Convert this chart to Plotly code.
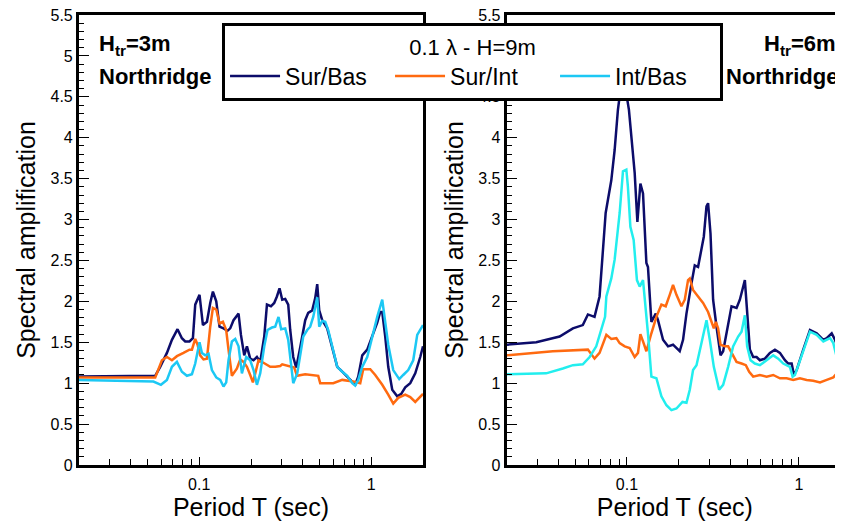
import plotly.graph_objects as go

# ---- left panel: H_tr = 3m ----
t3_sb = [0.0200, 0.0454, 0.0555, 0.0593, 0.0649, 0.0694, 0.0748, 0.0793, 0.0829, 0.0878,
         0.0919, 0.0948, 0.1004, 0.1051, 0.1109, 0.1159, 0.1201, 0.1256, 0.1312, 0.1384,
         0.1460, 0.1514, 0.1583, 0.1693, 0.1748, 0.1827, 0.1894, 0.1979, 0.2069, 0.2165,
         0.2263, 0.2388, 0.2476, 0.2612, 0.2729, 0.2829, 0.2930, 0.3038, 0.3162, 0.3292,
         0.3381, 0.3520, 0.3664, 0.3866, 0.4133, 0.4302, 0.4539, 0.4725, 0.4853, 0.4985,
         0.5189, 0.5549, 0.5934, 0.6345, 0.6784, 0.7253, 0.7755, 0.8072, 0.8403, 0.8867,
         0.9478, 1.0135, 1.0837, 1.1281, 1.1588, 1.2062, 1.2556, 1.3247, 1.4165, 1.4944,
         1.5767, 1.6857, 1.8026, 1.9274, 2.0]
a3_sb = [1.08, 1.09, 1.09, 1.20, 1.37, 1.53, 1.66, 1.55, 1.51, 1.51,
         1.55, 1.96, 2.08, 1.71, 1.75, 1.98, 2.12, 2.00, 1.69, 1.67,
         1.64, 1.67, 1.77, 1.85, 1.59, 1.34, 1.45, 1.30, 1.28, 1.32,
         1.26, 1.57, 1.96, 1.94, 1.98, 2.06, 2.16, 2.02, 2.03, 1.96,
         1.65, 1.32, 1.19, 1.44, 1.77, 1.86, 1.89, 2.04, 2.21, 1.89,
         1.77, 1.67, 1.43, 1.20, 1.14, 1.08, 1.01, 0.98, 1.08, 1.34,
         1.41, 1.57, 1.74, 1.87, 1.87, 1.57, 1.20, 0.92, 0.84, 0.87,
         0.95, 1.00, 1.12, 1.32, 1.45]

t3_si = [0.0200, 0.0454, 0.0555, 0.0607, 0.0649, 0.0694, 0.0742, 0.0810, 0.0878, 0.0907,
         0.0948, 0.0978, 0.1013, 0.1059, 0.1109, 0.1159, 0.1201, 0.1256, 0.1312, 0.1373,
         0.1435, 0.1480, 0.1549, 0.1657, 0.1731, 0.1810, 0.1894, 0.1979, 0.2052, 0.2117,
         0.2212, 0.2365, 0.2587, 0.2766, 0.2957, 0.3038, 0.3381, 0.3567, 0.3700, 0.4133,
         0.4918, 0.5052, 0.6013, 0.6784, 0.7860, 0.8630, 0.8985, 0.9867, 1.0551, 1.1588,
         1.2556, 1.3425, 1.4355, 1.5767, 1.6857, 1.8026, 2.0]
a3_si = [1.07, 1.07, 1.07, 1.28, 1.32, 1.28, 1.33, 1.37, 1.41, 1.41,
         1.54, 1.47, 1.34, 1.29, 1.30, 1.69, 1.92, 1.90, 1.73, 1.75,
         1.65, 1.41, 1.09, 1.18, 1.29, 1.26, 1.20, 1.10, 1.01, 1.12,
         1.28, 1.25, 1.20, 1.20, 1.21, 1.23, 1.20, 1.19, 1.09, 1.11,
         1.09, 1.00, 1.00, 1.04, 1.02, 1.00, 1.17, 1.17, 1.10, 0.98,
         0.86, 0.75, 0.82, 0.86, 0.83, 0.77, 0.87]

t3_ib = [0.0200, 0.0454, 0.0542, 0.0599, 0.0649, 0.0694, 0.0742, 0.0793, 0.0848, 0.0907,
         0.0948, 0.1004, 0.1037, 0.1084, 0.1133, 0.1185, 0.1256, 0.1325, 0.1384, 0.1435,
         0.1480, 0.1549, 0.1619, 0.1693, 0.1771, 0.1876, 0.1979, 0.2069, 0.2165, 0.2263,
         0.2388, 0.2495, 0.2647, 0.2766, 0.2891, 0.2997, 0.3162, 0.3292, 0.3427, 0.3520,
         0.3714, 0.3866, 0.4025, 0.4245, 0.4419, 0.4600, 0.4853, 0.4918, 0.4985, 0.5189,
         0.5403, 0.5623, 0.6013, 0.6345, 0.6784, 0.7253, 0.7755, 0.8072, 0.8403, 0.8867,
         0.9478, 1.0135, 1.0837, 1.1588, 1.2062, 1.2556, 1.3425, 1.4548, 1.5346, 1.6411,
         1.7546, 1.8511, 2.0]
a3_ib = [1.04, 1.03, 1.02, 0.98, 1.04, 1.20, 1.26, 1.14, 1.09, 1.11,
         1.24, 1.50, 1.37, 1.34, 1.36, 1.16, 1.07, 1.04, 0.96, 1.01,
         1.28, 1.51, 1.54, 1.45, 1.12, 1.32, 1.28, 1.16, 0.98, 1.12,
         1.45, 1.65, 1.68, 1.69, 1.81, 1.66, 1.67, 1.53, 1.20, 1.00,
         1.12, 1.37, 1.57, 1.65, 1.69, 1.81, 2.05, 1.87, 1.69, 1.76,
         1.75, 1.65, 1.41, 1.20, 1.14, 1.09, 1.00, 0.97, 1.04, 1.20,
         1.32, 1.57, 1.81, 2.02, 1.77, 1.47, 1.16, 1.05, 1.10, 1.16,
         1.28, 1.59, 1.71]

# ---- right panel: H_tr = 6m ----
t6_sb = [0.0200, 0.0297, 0.0406, 0.0485, 0.0554, 0.0593, 0.0648, 0.0693, 0.0752, 0.0811,
         0.0848, 0.0886, 0.0925, 0.0960, 0.1027, 0.1061, 0.1109, 0.1150, 0.1197, 0.1240,
         0.1297, 0.1325, 0.1387, 0.1470, 0.1515, 0.1621, 0.1733, 0.1853, 0.1940, 0.2027,
         0.2119, 0.2218, 0.2372, 0.2479, 0.2591, 0.2712, 0.2797, 0.2900, 0.2963, 0.3060,
         0.3169, 0.3317, 0.3500, 0.3624, 0.3824, 0.4055, 0.4337, 0.4533, 0.4847, 0.4999,
         0.5183, 0.5418, 0.5670, 0.5928, 0.6339, 0.6778, 0.7248, 0.7751, 0.8289, 0.8664,
         0.9068, 0.9353, 0.9696, 1.0593, 1.1589, 1.2680, 1.3854, 1.4500, 1.5502, 1.6206,
         1.6937, 1.7727, 1.80]
a6_sb = [1.47, 1.50, 1.57, 1.67, 1.71, 1.84, 1.81, 2.06, 3.08, 3.48,
         3.85, 4.34, 4.65, 4.72, 4.34, 3.97, 3.57, 2.97, 3.44, 3.32,
         2.47, 2.42, 1.75, 1.85, 1.77, 1.53, 1.45, 1.47, 1.43, 1.39,
         1.53, 1.85, 2.22, 2.44, 2.42, 2.67, 2.79, 3.16, 3.20, 2.83,
         2.02, 1.69, 1.34, 1.39, 1.65, 1.94, 1.92, 2.02, 2.26, 1.89,
         1.41, 1.32, 1.32, 1.28, 1.30, 1.37, 1.41, 1.37, 1.28, 1.24,
         1.24, 1.10, 1.16, 1.41, 1.65, 1.61, 1.53, 1.55, 1.61, 1.53,
         1.41, 1.45, 1.47]

t6_si = [0.0200, 0.0371, 0.0593, 0.0648, 0.0693, 0.0759, 0.0811, 0.0868, 0.0907, 0.0970,
         0.1037, 0.1109, 0.1159, 0.1197, 0.1240, 0.1297, 0.1387, 0.1483, 0.1586, 0.1680,
         0.1773, 0.1853, 0.1940, 0.2074, 0.2168, 0.2266, 0.2319, 0.2423, 0.2591, 0.2771,
         0.2963, 0.3101, 0.3199, 0.3286, 0.3388, 0.3500, 0.3707, 0.3875, 0.4143, 0.4337,
         0.4637, 0.4912, 0.5135, 0.5418, 0.5928, 0.6485, 0.7086, 0.7751, 0.8479, 0.9265,
         1.0134, 1.1089, 1.2114, 1.3254, 1.4500, 1.5840, 1.6937, 1.7727, 1.80]
a6_si = [1.34, 1.39, 1.41, 1.30, 1.37, 1.59, 1.54, 1.55, 1.49, 1.45,
         1.43, 1.32, 1.37, 1.60, 1.51, 1.39, 1.61, 1.81, 1.96, 1.94,
         2.08, 2.20, 2.08, 1.94, 2.02, 2.26, 2.28, 2.14, 2.06, 1.98,
         1.87, 1.75, 1.67, 1.75, 1.67, 1.47, 1.45, 1.45, 1.34, 1.26,
         1.24, 1.22, 1.14, 1.08, 1.10, 1.08, 1.10, 1.06, 1.06, 1.04,
         1.06, 1.04, 1.03, 1.01, 1.04, 1.07, 1.14, 1.20, 1.21]

t6_ib = [0.0200, 0.0339, 0.0424, 0.0485, 0.0554, 0.0607, 0.0663, 0.0709, 0.0746, 0.0759,
         0.0811, 0.0848, 0.0907, 0.0948, 0.0992, 0.1013, 0.1047, 0.1094, 0.1143, 0.1186,
         0.1240, 0.1325, 0.1387, 0.1483, 0.1586, 0.1696, 0.1814, 0.1940, 0.2103, 0.2218,
         0.2319, 0.2423, 0.2537, 0.2712, 0.2900, 0.3031, 0.3199, 0.3434, 0.3624, 0.3875,
         0.4143, 0.4432, 0.4637, 0.4847, 0.4999, 0.5232, 0.5542, 0.5928, 0.6485, 0.7086,
         0.7577, 0.8102, 0.8863, 0.9189, 0.9479, 1.0593, 1.1589, 1.2680, 1.3854, 1.5154,
         1.5840, 1.6937, 1.7727, 1.80]
a6_ib = [1.11, 1.12, 1.18, 1.22, 1.23, 1.32, 1.45, 1.67, 1.81, 2.06,
         2.28, 2.51, 3.08, 3.59, 3.61, 3.40, 2.91, 2.75, 2.26, 2.18,
         2.26, 1.61, 1.08, 1.06, 0.84, 0.73, 0.67, 0.69, 0.77, 0.76,
         0.92, 1.16, 1.22, 1.49, 1.77, 1.53, 1.20, 0.92, 0.98, 1.20,
         1.45, 1.57, 1.63, 1.83, 1.45, 1.28, 1.24, 1.22, 1.28, 1.34,
         1.30, 1.24, 1.20, 1.08, 1.10, 1.39, 1.63, 1.59, 1.51, 1.55,
         1.49, 1.24, 1.22, 1.22]

NAVY = "#0c0c6a"
ORANGE = "#ff6a10"
CYAN_L = "#1cc8f4"
CYAN_R = "#22eeee"
FONT = "Arial, Liberation Sans, sans-serif"

fig = go.Figure()
fig.add_trace(go.Scatter(x=t3_sb, y=a3_sb, name="Sur/Bas", mode="lines",
                         line=dict(color=NAVY, width=2.5), xaxis="x", yaxis="y"))
fig.add_trace(go.Scatter(x=t3_si, y=a3_si, name="Sur/Int", mode="lines",
                         line=dict(color=ORANGE, width=2.5), xaxis="x", yaxis="y"))
fig.add_trace(go.Scatter(x=t3_ib, y=a3_ib, name="Int/Bas", mode="lines",
                         line=dict(color=CYAN_L, width=2.5), xaxis="x", yaxis="y"))
fig.add_trace(go.Scatter(x=t6_sb, y=a6_sb, name="Sur/Bas", mode="lines", showlegend=False,
                         line=dict(color=NAVY, width=2.5), xaxis="x2", yaxis="y2"))
fig.add_trace(go.Scatter(x=t6_si, y=a6_si, name="Sur/Int", mode="lines", showlegend=False,
                         line=dict(color=ORANGE, width=2.5), xaxis="x2", yaxis="y2"))
fig.add_trace(go.Scatter(x=t6_ib, y=a6_ib, name="Int/Bas", mode="lines", showlegend=False,
                         line=dict(color=CYAN_R, width=2.5), xaxis="x2", yaxis="y2"))

minor_x = [0.02, 0.03, 0.04, 0.05, 0.06, 0.07, 0.08, 0.09,
           0.2, 0.3, 0.4, 0.5, 0.6, 0.7, 0.8, 0.9, 2]

xcommon = dict(type="log", showline=True, linewidth=3, linecolor="black", mirror=True,
               automargin=False, ticklabelstandoff=3,
               ticks="inside", ticklen=8, tickwidth=1.2, tickcolor="black",
               tickvals=[0.1, 1], ticktext=["0.1", "1"], showgrid=False, zeroline=False,
               minor=dict(tickvals=minor_x, ticks="inside", ticklen=6, tickwidth=1.2,
                          tickcolor="black", showgrid=False),
               tickfont=dict(size=16, color="black"),
               title=dict(text="Period T (sec)", font=dict(size=25, color="black"), standoff=6))
ycommon = dict(range=[0, 5.5], dtick=0.5, showline=True, linewidth=3, linecolor="black",
               automargin=False, ticklabeloverflow="allow",
               ticks="inside", ticklen=10, tickwidth=1.2, tickcolor="black",
               showgrid=False, zeroline=False,
               minor=dict(dtick=0.1, ticks="inside", ticklen=5, tickwidth=1.2,
                          tickcolor="black", showgrid=False),
               tickfont=dict(size=16, color="black"),
               title=dict(text="Spectral amplification", font=dict(size=25, color="black"),
                          standoff=8))

fig.update_layout(
    width=843, height=524,
    margin=dict(l=0, r=0, t=0, b=0, autoexpand=False),
    paper_bgcolor="white", plot_bgcolor="white",
    font=dict(family=FONT, color="black"),
    xaxis=dict(xcommon, domain=[0.0842, 0.4923], range=[-1.699, 0.301], anchor="y"),
    yaxis=dict(ycommon, domain=[0.1279, 0.9866], mirror=True, anchor="x"),
    xaxis2=dict(xcommon, domain=[0.5916, 0.9905], range=[-1.699, 0.256], anchor="y2"),
    yaxis2=dict(ycommon, domain=[0.1279, 0.9866], mirror=False, anchor="x2"),
    legend=dict(orientation="h", x=0.2539, y=0.9714, xanchor="left", yanchor="top",
                bgcolor="white", bordercolor="black", borderwidth=3,
                font=dict(size=23, color="black"), entrywidth=100, itemwidth=50,
                title=dict(text="0.1 λ - H=9m", side="top center",
                           font=dict(size=22, color="black"))),
    showlegend=True,
)

fig.add_annotation(x=0.1056, y=0.9294, xref="paper", yref="paper", xanchor="left",
                   yanchor="middle", text="<b>H<sub>tr</sub>=3m</b>", showarrow=False,
                   font=dict(size=22, color="black"))
fig.add_annotation(x=0.1056, y=0.870, xref="paper", yref="paper", xanchor="left",
                   yanchor="middle", text="<b>Northridge</b>", showarrow=False,
                   font=dict(size=22, color="black"))
fig.add_annotation(x=0.9846, y=0.9294, xref="paper", yref="paper", xanchor="right",
                   yanchor="middle", text="<b>H<sub>tr</sub>=6m</b>", showarrow=False,
                   font=dict(size=22, color="black"))
fig.add_annotation(x=0.9870, y=0.870, xref="paper", yref="paper", xanchor="right",
                   yanchor="middle", text="<b>Northridge</b>", showarrow=False,
                   font=dict(size=22, color="black"))

fig.write_html("out.html")
